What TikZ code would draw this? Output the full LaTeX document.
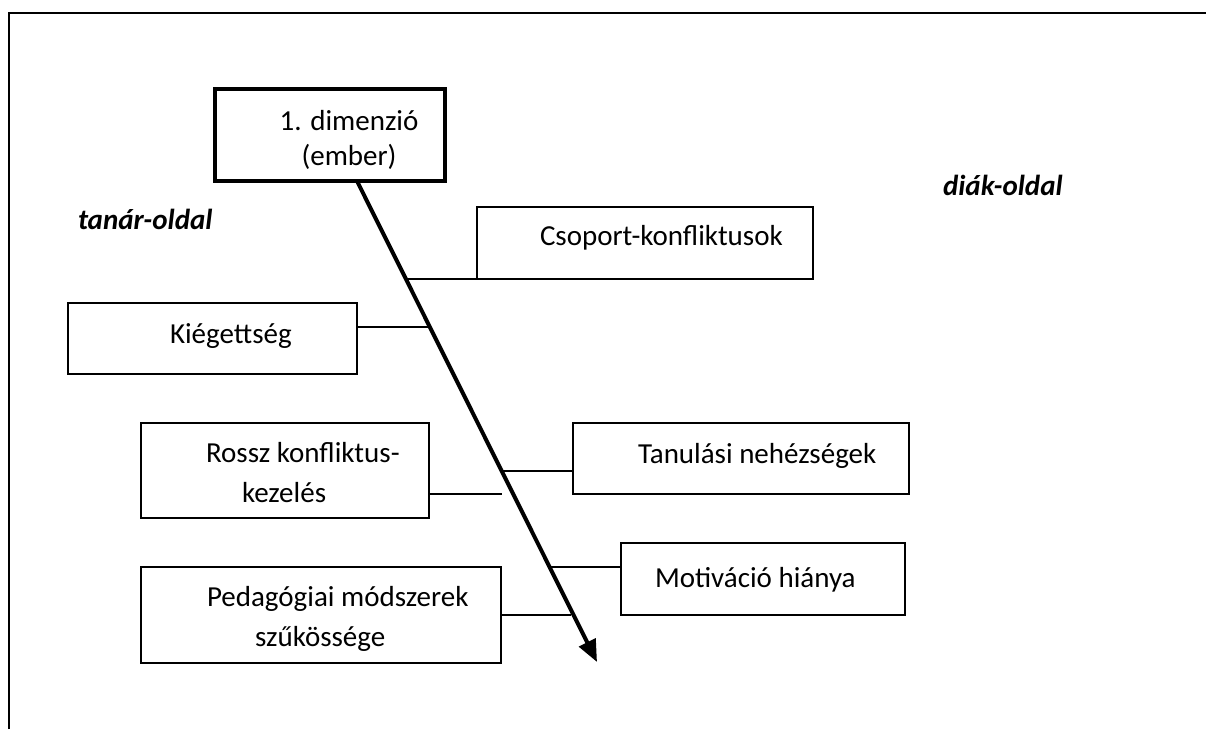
\documentclass[tikz,border=0pt]{standalone}
\usepackage{fontspec}
\setmainfont{Carlito}
\usetikzlibrary{arrows.meta,calc}
\begin{document}
\begin{tikzpicture}[x=1pt,y=-1pt,
  box/.style={draw, line width=1.5pt, inner sep=0pt, outer sep=0pt, rectangle},
  mainbox/.style={box, line width=4pt},
  lbl/.style={inner sep=0pt, outer sep=0pt, font=\fontsize{29}{35}\selectfont},
  side/.style={lbl, font=\fontsize{29}{35}\selectfont\bfseries\itshape},
  branch/.style={line width=1.5pt},
  spine/.style={line width=4pt, -{Triangle[length=22pt,width=18pt]}},
  frame/.style={line width=2.5pt}]
  \useasboundingbox (0,0) rectangle (1206,729);

  % page frame (top and left edge)
  \coordinate (fbl) at (9,729);
  \coordinate (ftl) at (9,13);
  \coordinate (ftr) at (1206,13);
  \draw[frame] (fbl) -- (ftl) -- (ftr);

  % side captions
  \node[side, anchor=base west] (teacher) at (78,229) {tanár-oldal};
  \node[side, anchor=base west] (student) at (943,195) {diák-oldal};

  % head box
  \node[mainbox, minimum width=230, minimum height=92] (dim) at (330,135) {};
  \node[lbl, anchor=base] (dimA) at (349,130) {1. dimenzió};
  \node[lbl, anchor=base] (dimB) at (349,165) {(ember)};

  % cause boxes
  \node[box, minimum width=336, minimum height=72] (csop) at (645,243) {};
  \node[lbl, anchor=base west] (csopT) at (540,245) {Csoport-konfliktusok};

  \node[box, minimum width=289, minimum height=71] (kieg) at (212.5,338.5) {};
  \node[lbl, anchor=base west] (kiegT) at (170,343) {Kiégettség};

  \node[box, minimum width=288, minimum height=95] (rossz) at (285,470.5) {};
  \node[lbl, anchor=base west] (rosszA) at (206,462) {Rossz konfliktus-};
  \node[lbl, anchor=base west] (rosszB) at (242,502) {kezelés};

  \node[box, minimum width=336, minimum height=71] (tanul) at (741,458.5) {};
  \node[lbl, anchor=base west] (tanulT) at (638,463) {Tanulási nehézségek};

  \node[box, minimum width=284, minimum height=72] (motiv) at (763,579) {};
  \node[lbl, anchor=base west] (motivT) at (655,587) {Motiváció hiánya};

  \node[box, minimum width=360, minimum height=96] (pedag) at (321,615) {};
  \node[lbl, anchor=base west] (pedagA) at (207,606) {Pedagógiai módszerek};
  \node[lbl, anchor=base west] (pedagB) at (255,646) {szűkössége};

  % main spine
  \coordinate (ax) at (357,0);
  \coordinate (s) at (dim.south -| ax);
  \coordinate (tip) at (597,662);
  \draw[spine] (s) -- (tip);

  % attachment points on the spine
  \coordinate (b1) at ($(s)!0.2037!(tip)$);
  \coordinate (b2) at ($(s)!0.3035!(tip)$);
  \coordinate (b3) at ($(s)!0.6029!(tip)$);
  \coordinate (b4) at ($(s)!0.6507!(tip)$);
  \coordinate (b5) at ($(s)!0.8025!(tip)$);
  \coordinate (b6) at ($(s)!0.9023!(tip)$);

  % branches
  \draw[branch] (b1) -- (b1 -| csop.west);
  \draw[branch] (kieg.east |- b2) -- (b2);
  \draw[branch] (b3) -- (b3 -| tanul.west);
  \draw[branch] (rossz.east |- b4) -- ([xshift=-11pt]b4);
  \draw[branch] (b5) -- (b5 -| motiv.west);
  \draw[branch] (pedag.east |- b6) -- ([xshift=-3pt]b6);
\end{tikzpicture}
\end{document}
